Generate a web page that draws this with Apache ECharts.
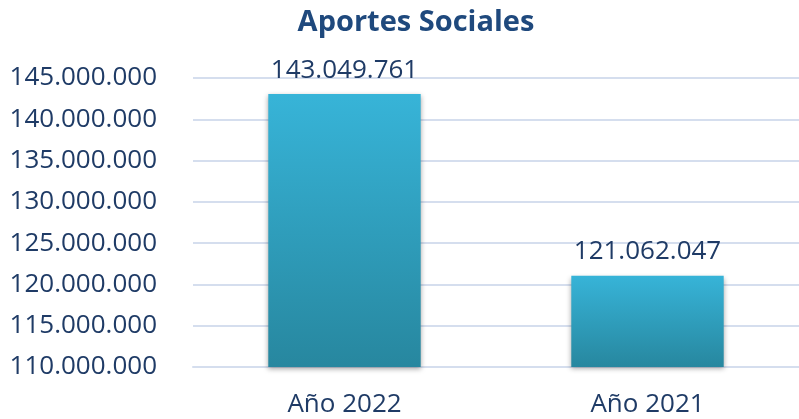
<!DOCTYPE html>
<html><head><meta charset="utf-8">
<script src="https://cdn.jsdelivr.net/npm/echarts@6/dist/echarts.min.js"></script>
<style>html,body{margin:0;padding:0;background:#fff}#c{width:799px;height:419px}</style>
</head><body><div id="c"></div>
<script>
const categories = ["Año 2022", "Año 2021"];
const values = [143049761, 121062047];
const yTicks = [110000000, 115000000, 120000000, 125000000, 130000000, 135000000, 140000000, 145000000];

function fmt(n){ return String(Math.round(n)).replace(/\B(?=(\d{3})+(?!\d))/g, "."); }
const FONT = "Open Sans";
const TXT = "#1F3B66";
const chart = echarts.init(document.getElementById('c'), null, {renderer:'canvas'});
chart.setOption({
  animation:false,
  backgroundColor:'#ffffff',
  title:{text:'Aportes Sociales', left:411, top:3, textAlign:'center',
    textStyle:{fontFamily:FONT, fontWeight:'bold', fontSize:29, color:'#1F497D'}},
  grid:{left:193, top:78, width:612, height:289, containLabel:false},
  xAxis:{type:'category', data:categories, boundaryGap:true,
    axisLine:{lineStyle:{color:'#D5DEEE', width:2}}, axisTick:{show:false},
    axisLabel:{fontFamily:FONT, fontSize:26, color:TXT, margin:25}},
  yAxis:{type:'value', min:yTicks[0], max:yTicks[yTicks.length-1], interval:yTicks[1]-yTicks[0],
    axisLine:{show:false}, axisTick:{show:false},
    splitLine:{lineStyle:{color:'#D5DEEE', width:2}},
    axisLabel:{fontFamily:FONT, fontSize:26, color:TXT, margin:36, formatter:fmt}},
  series:[{type:'bar', data:values, barWidth:'50.3%',
    itemStyle:{color:new echarts.graphic.LinearGradient(0,0,0,1,[{offset:0,color:'#37B4D8'},{offset:1,color:'#27879F'}]),
      shadowColor:'rgba(0,0,0,0.35)', shadowBlur:5, shadowOffsetY:2},
    label:{show:true, position:'top', distance:11, fontFamily:FONT, fontSize:26, color:TXT, formatter:p=>fmt(p.value)}}]
});
</script></body></html>
